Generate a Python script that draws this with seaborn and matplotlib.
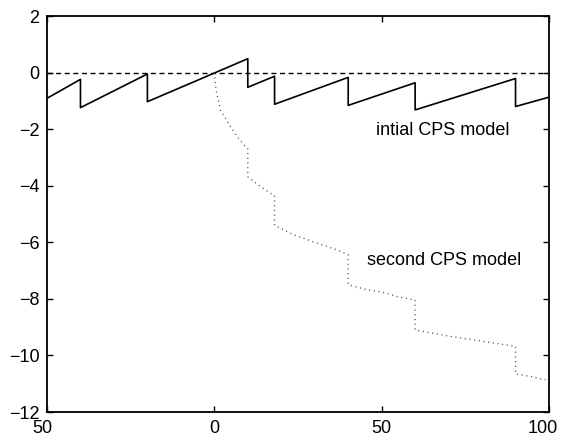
import matplotlib
matplotlib.use("Agg")
import matplotlib.pyplot as plt
import matplotlib.transforms as mtransforms
import seaborn as sns
import pandas as pd

# ---- data ----
initial_x = [-50, -40, -40, -20, -20, 10, 10, 18, 18, 40, 40, 60, 60, 90, 90, 100]
initial_y = [-0.91, -0.24, -1.24, -0.05, -1.03, 0.49, -0.52, -0.13, -1.12,
             -0.17, -1.16, -0.36, -1.32, -0.21, -1.20, -0.87]

second_x = [0, 0.5, 1.8, 4.8, 6.8, 8.8, 10, 10, 11.8, 13.8, 16.8, 18, 18,
            23.8, 30.7, 36.7, 40, 40, 45.7, 50.7, 54.7, 60, 60, 70.7, 80.6,
            90, 90, 94.6, 99]
second_y = [0, -0.6, -1.32, -1.91, -2.26, -2.55, -2.7, -3.68, -3.85, -4.03,
            -4.27, -4.35, -5.40, -5.74, -6.03, -6.27, -6.44, -7.5, -7.68,
            -7.78, -7.92, -8.04, -9.1, -9.33, -9.51, -9.68, -10.65, -10.75,
            -10.86]

zero_x = [-50, 100]
zero_y = [0, 0]

x_ticks = [-50, 0, 50, 100]
x_tick_labels = ["50", "0", "50", "100"]
y_ticks = [-12, -10, -8, -6, -4, -2, 0, 2]

label_initial = "intial CPS model"
label_second = "second CPS model"

# ---- plotting ----
sns.set_style("ticks")
plt.rcParams["font.family"] = ["Liberation Sans", "DejaVu Sans"]
plt.rcParams["text.color"] = "black"

fig = plt.figure(figsize=(5.68, 4.38), dpi=100)
ax = fig.add_axes([47 / 568, 26 / 438, 502 / 568, 396 / 438])

df_init = pd.DataFrame({"x": initial_x, "y": initial_y})
df_sec = pd.DataFrame({"x": second_x, "y": second_y})
df_zero = pd.DataFrame({"x": zero_x, "y": zero_y})

sns.lineplot(data=df_zero, x="x", y="y", ax=ax, sort=False, estimator=None,
             color="black", linewidth=1.0)
ax.lines[-1].set_dashes((3.6, 2.6))
sns.lineplot(data=df_init, x="x", y="y", ax=ax, sort=False, estimator=None,
             color="black", linewidth=1.2)
sns.lineplot(data=df_sec, x="x", y="y", ax=ax, sort=False, estimator=None,
             color="0.35", linewidth=1.0)
ax.lines[-1].set_dashes((0.8, 2.6))

ax.text(48.2, -2.2, label_initial, fontsize=13, va="baseline", ha="left",
        color="black")
ax.text(45.5, -6.8, label_second, fontsize=13, va="baseline", ha="left",
        color="black")

ax.set_xlim(-50, 100)
ax.set_ylim(-12, 2)
ax.set_xticks(x_ticks)
ax.set_xticklabels(x_tick_labels)
ax.set_yticks(y_ticks)
ax.set_xlabel("")
ax.set_ylabel("")

for s in ax.spines.values():
    s.set_visible(True)
    s.set_linewidth(1.3)
    s.set_color("black")
ax.tick_params(direction="in", length=4, width=1, labelsize=13, pad=5.5,
               top=True, right=True, colors="black")

# end labels sit slightly inward in the reference
labels = ax.get_xticklabels()
labels[0].set_transform(labels[0].get_transform() +
                        mtransforms.ScaledTranslation(-5 / 100, 0, fig.dpi_scale_trans))
labels[-1].set_transform(labels[-1].get_transform() +
                         mtransforms.ScaledTranslation(-6 / 100, 0, fig.dpi_scale_trans))

fig.savefig("out.png", dpi=100)
